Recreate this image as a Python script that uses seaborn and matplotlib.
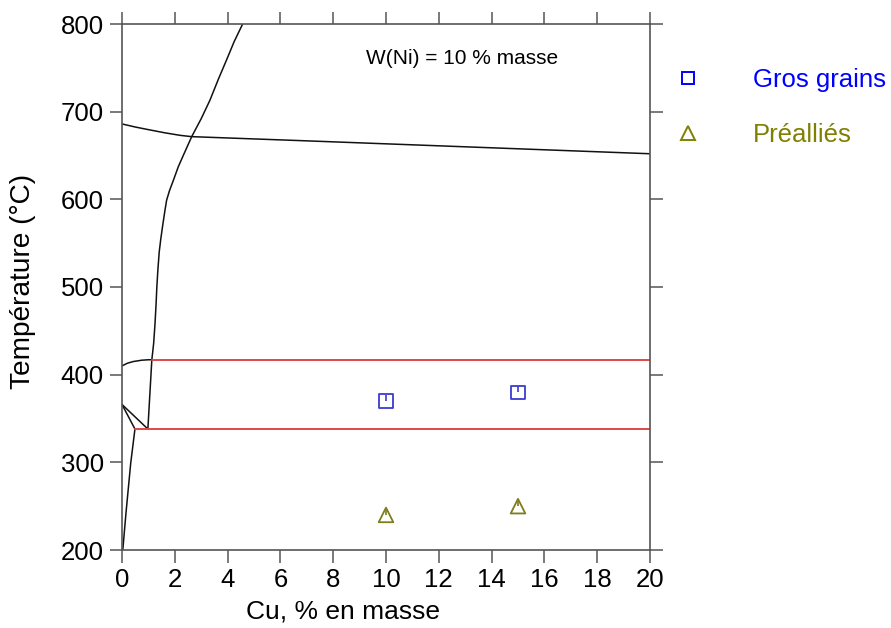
import matplotlib
matplotlib.use("Agg")
import matplotlib.pyplot as plt
import seaborn as sns
import pandas as pd
from matplotlib.lines import Line2D

# ---- data ----
boundary_cu = [4.57, 4.25, 3.96, 3.65, 3.33, 3.0, 2.64, 2.35, 2.13, 1.95, 1.80, 1.69,
               1.63, 1.55, 1.47, 1.41, 1.36, 1.32, 1.29, 1.25, 1.20, 1.16, 1.13, 0.98]
boundary_t = [800, 780, 759, 737, 713, 692, 671.5, 652, 637, 622, 610, 599,
              588, 572, 555, 540, 520, 500, 480, 458, 436, 425, 417, 338]

liquidus_cu = [0, 0.5, 1.0, 1.6, 2.2, 2.64, 6.74, 20]
liquidus_t = [686, 682.5, 679.5, 676, 673, 671.5, 667, 652]

solvus_hi_cu = [0, 0.2, 0.43, 0.75, 1.0, 1.13]
solvus_hi_t = [410, 413, 415, 416.5, 417, 417]

wedge_a_cu = [0, 0.98]
wedge_a_t = [366, 338]
wedge_b_cu = [0, 0.49]
wedge_b_t = [366, 338]

solvus_lo_cu = [0.49, 0.33, 0.15, 0.03]
solvus_lo_t = [338, 299, 242, 200]

iso_hi_cu = [1.13, 20]
iso_hi_t = [417, 417]
iso_lo_cu = [0.49, 20]
iso_lo_t = [338, 338]

gros_cu = [10, 15]
gros_t = [370, 380]
prea_cu = [10, 15]
prea_t = [240, 250]
err_up = [7, 7]

x_ticks = [0, 2, 4, 6, 8, 10, 12, 14, 16, 18, 20]
y_ticks = [200, 300, 400, 500, 600, 700, 800]

# ---- figure ----
sns.set_theme(style="white")
plt.rcParams['font.family'] = ['Liberation Sans', 'DejaVu Sans']

fig = plt.figure(figsize=(8.91, 6.28), dpi=100)
ax = fig.add_axes([122/891, 1-550/628, (650-122)/891, (550-24)/628])

line_kw = dict(color='#111111', linewidth=1.1, sort=False, estimator=None, legend=False)
for cx, ty in [(boundary_cu, boundary_t), (liquidus_cu, liquidus_t),
               (solvus_hi_cu, solvus_hi_t), (wedge_a_cu, wedge_a_t),
               (wedge_b_cu, wedge_b_t), (solvus_lo_cu, solvus_lo_t)]:
    sns.lineplot(data=pd.DataFrame({'cu': cx, 't': ty}), x='cu', y='t', ax=ax, **line_kw)

red_kw = dict(color='#e04848', linewidth=1.4, sort=False, estimator=None, legend=False)
for cx, ty in [(iso_hi_cu, iso_hi_t), (iso_lo_cu, iso_lo_t)]:
    sns.lineplot(data=pd.DataFrame({'cu': cx, 't': ty}), x='cu', y='t', ax=ax, **red_kw)

blue_pt = '#3b3bd0'
olive_pt = '#7d7d1e'
sns.scatterplot(x=gros_cu, y=gros_t, ax=ax, marker='s', s=90, facecolor='none',
                edgecolor=blue_pt, linewidth=1.3, zorder=5)
sns.scatterplot(x=prea_cu, y=prea_t, ax=ax, marker='^', s=110, facecolor='none',
                edgecolor=olive_pt, linewidth=1.3, zorder=5)
ax.errorbar(gros_cu, gros_t, yerr=[[0, 0], err_up], fmt='none', ecolor=blue_pt,
            elinewidth=1.2, capsize=0, zorder=6)
ax.errorbar(prea_cu, prea_t, yerr=[[0, 0], err_up], fmt='none', ecolor=olive_pt,
            elinewidth=1.2, capsize=0, zorder=6)

ax.set_xlim(0, 20)
ax.set_ylim(200, 800)
ax.set_xticks(x_ticks)
ax.set_yticks(y_ticks)
ax.set_xlabel('Cu, % en masse', fontsize=19, color='black')
ax.set_ylabel('Température (°C)', fontsize=20.2, color='black')
ax.xaxis.set_label_coords((343.5-122)/528, -(612-550)/526)
ax.xaxis.label.set_verticalalignment('center')
ax.yaxis.set_label_coords((23-122)/528, (550-281.5)/526)
ax.yaxis.label.set_verticalalignment('center')

spine_c = '#555555'
for s in ax.spines.values():
    s.set_visible(True)
    s.set_color(spine_c)
    s.set_linewidth(1.2)
ax.tick_params(axis='both', which='major', direction='out', length=9, width=1.1,
               color=spine_c, labelsize=18.5, labelcolor='black',
               top=True, right=True, bottom=True, left=True, pad=4)

ax.text(12.9, 761, 'W(Ni) = 10 % masse', fontsize=15, ha='center', va='center', color='black')

handles = [Line2D([], [], marker='s', linestyle='none', markersize=9,
                  markerfacecolor='none', markeredgecolor='#0000ff', markeredgewidth=1.4),
           Line2D([], [], marker='^', linestyle='none', markersize=9.5,
                  markerfacecolor='none', markeredgecolor='#808000', markeredgewidth=1.4)]
leg = fig.legend(handles, ['Gros grains', 'Préalliés'], loc='upper left',
                 bbox_to_anchor=(673/891, 1-68/628), frameon=False, fontsize=18.5,
                 labelcolor=['#0000ff', '#808000'], handlelength=1.2,
                 handletextpad=1.9, labelspacing=1.2, borderpad=0, borderaxespad=0)

fig.savefig('out.png', dpi=100)
